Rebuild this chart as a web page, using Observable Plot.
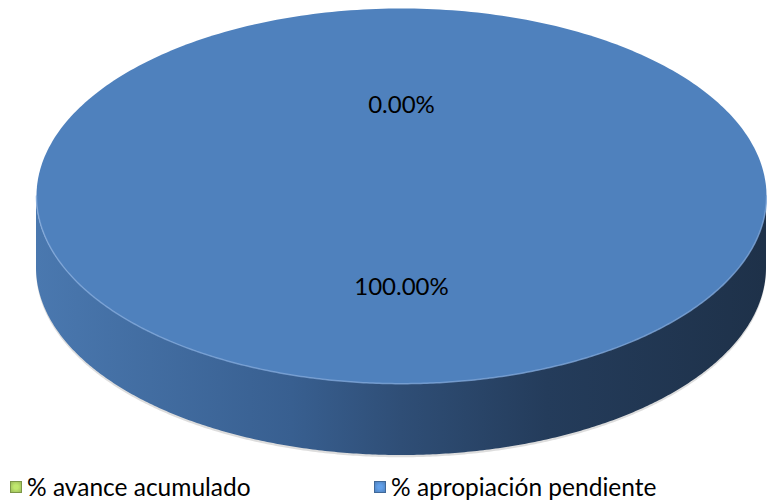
<!DOCTYPE html>
<html><head><meta charset="utf-8">
<script src="https://cdn.jsdelivr.net/npm/d3@7"></script>
<script src="https://cdn.jsdelivr.net/npm/@observablehq/plot@0.6"></script>
<style>
body{margin:0;background:#fff;font-family:Lato,"Open Sans",sans-serif;}
#legend{position:relative;height:32px;width:767px;}
.item{position:absolute;top:2px;display:flex;align-items:center;font-size:24.5px;color:#000;white-space:nowrap;}
.sw{width:12px;height:12px;margin-right:5px;box-sizing:border-box;}
</style></head><body>
<div id="chart"></div>
<div id="legend"></div>
<script>
const categories = ["% avance acumulado", "% apropiación pendiente"];
const values = [0, 100];
const colors = ["#9BBB59", "#4F81BD"];
const legendX = [10, 374];

const W = 767, H = 470;
const depth = 0.383;
const total = d3.sum(values);
const arcs = d3.pie().sort(null).value(d => d)(values);

// top faces
const topPts = [];
arcs.forEach((a, i) => {
  if (a.endAngle - a.startAngle <= 0) return;
  const n = Math.max(4, Math.round((a.endAngle - a.startAngle) / (2 * Math.PI) * 360));
  if (a.endAngle - a.startAngle < 2 * Math.PI - 1e-9) topPts.push({k: i, x: 0, y: 0});
  for (let j = 0; j <= n; j++) {
    const t = a.startAngle + (a.endAngle - a.startAngle) * j / n;
    topPts.push({k: i, x: Math.sin(t), y: Math.cos(t)});
  }
});
// front side (lower half of ellipse)
const side = [];
for (let j = 0; j <= 360; j++) {
  const t = Math.PI / 2 + Math.PI * j / 360;
  side.push({x: Math.sin(t), y1: Math.cos(t), y2: Math.cos(t) - depth});
}
const labels = arcs.map((a, i) => {
  const m = (a.startAngle + a.endAngle) / 2;
  return {x: 0.5 * Math.sin(m), y: 0.485 * Math.cos(m),
          text: d3.format(".2f")(values[i] / total * 100) + "%"};
});

const plot = Plot.plot({
  width: W, height: H, margin: 0,
  x: {domain: [-1, 1], range: [36, 766], axis: null},
  y: {domain: [-1 - depth, 1], range: [455, 8], axis: null},
  marks: [
    Plot.areaY(side, {x: "x", y1: d => d.y1 - 0.01, y2: d => d.y2 - 0.012, fill: "#cfcfcf", fillOpacity: 0.7}),
    Plot.areaY(side, {x: "x", y1: "y1", y2: "y2", fill: "url(#sideGrad)"}),
    Plot.line(topPts, {x: "x", y: "y", z: "k", fill: d => colors[d.k], stroke: "none"}),
    Plot.line(side, {x: "x", y: "y1", stroke: "#7fa6d8", strokeWidth: 1.5, strokeOpacity: 0.8}),
    Plot.text(labels, {x: "x", y: "y", text: "text", fontSize: 24, fill: "#000", fontFamily: "Lato"})
  ]
});
const svg = d3.select(plot);
const defs = svg.insert("defs", ":first-child");
const g = defs.append("linearGradient").attr("id", "sideGrad").attr("x1", 0).attr("x2", 1).attr("y1", 0).attr("y2", 0);
[[0, "#4a78af"], [0.35, "#385f90"], [0.5, "#2f4e76"], [0.7, "#243c5b"], [1, "#1e3149"]].forEach(([o, c]) =>
  g.append("stop").attr("offset", o).attr("stop-color", c));
document.getElementById("chart").appendChild(plot);

const leg = d3.select("#legend");
categories.forEach((c, i) => {
  const it = leg.append("div").attr("class", "item").style("left", legendX[i] + "px");
  it.append("div").attr("class", "sw")
    .style("background", `radial-gradient(circle, ${d3.color(colors[i]).brighter(0.6)} 30%, ${colors[i]} 100%)`)
    .style("border", `1px solid ${d3.color(colors[i]).darker(0.6)}`);
  it.append("span").text(c);
});
</script>
</body></html>
